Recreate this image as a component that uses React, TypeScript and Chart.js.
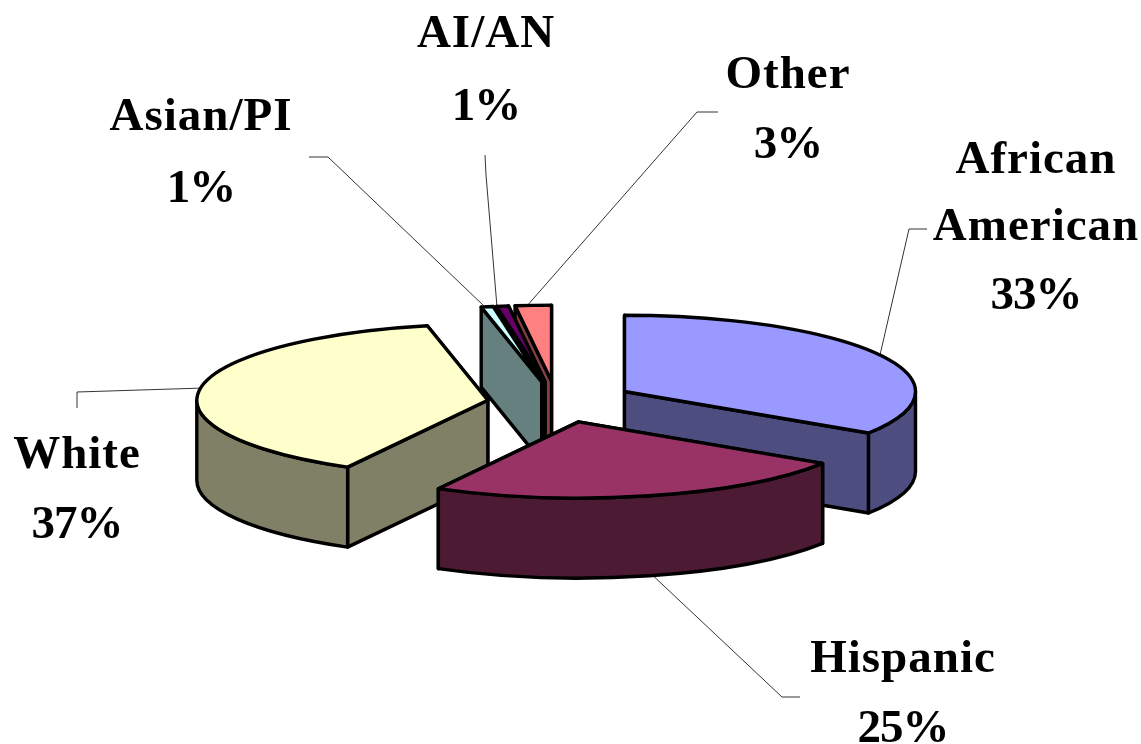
import React, { useEffect, useRef } from "react";
import { Chart, registerables } from "chart.js";

Chart.register(...registerables);

// ---- data ----
const categories = ["African American", "Hispanic", "White", "Asian/PI", "AI/AN", "Other"];
const shares = [33, 25, 37, 1, 1, 3];
const topColors = ["#9999FF", "#993366", "#FFFFCC", "#CCFFFF", "#660066", "#FF8080"];
const wallColors = ["#4D4D80", "#4D1A33", "#808066", "#668080", "#330033", "#804040"];

// ---- layout (not data) ----
const W = 1141;
const H = 744;
const RADIUS = 291;
const TILT = 0.262;
const DEPTH = 80;
const explode = [79, 79, 69, 79, 79, 79];
const LINE = 3.4;
const FONT = 'bold 47px "Liberation Serif"';
const labelLayout = [
  { x: 1036, y: [173, 240, 309] },
  { x: 903, y: [672, 742] },
  { x: 77, y: [468, 538] },
  { x: 201, y: [130, 202] },
  { x: 486, y: [47, 120] },
  { x: 788, y: [88, 158] },
];
const leaderLayout = [
  [[927, 229], [909, 229], [880, 355]],
  [[800, 697], [782, 697], [647, 570]],
  [[77, 408], [77, 392], [204, 388]],
  [[309, 157], [328, 157], [484, 306]],
  [[485, 155], [486, 175], [497, 307]],
  [[718, 112], [697, 112], [526, 307]],
];
// How the 3D view slides pie angles along the rim (degrees clockwise from twelve o'clock).
const viewKnots = [
  [0, 0],
  [90, 90],
  [118.8, 123],
  [150, 150],
  [315, 315],
  [342, 348],
  [360, 360],
];

const DEG = Math.PI / 180;
function viewAngle(a: number) {
  const t = (a + Math.PI / 2) / DEG;
  for (let k = 1; k < viewKnots.length; k++) {
    const [t0, v0] = viewKnots[k - 1];
    const [t1, v1] = viewKnots[k];
    if (t <= t1 + 1e-6) return (v0 + ((t - t0) * (v1 - v0)) / (t1 - t0)) * DEG - Math.PI / 2;
  }
  return a;
}

function drawSlice(ctx: CanvasRenderingContext2D, arc: any, i: number) {
  const s = viewAngle(arc.startAngle);
  const e = viewAngle(arc.endAngle);
  const mid = viewAngle((arc.startAngle + arc.endAngle) / 2);
  const R = arc.outerRadius;
  const ax = arc.x + Math.cos(mid) * explode[i];
  const ay = arc.y + Math.sin(mid) * explode[i] * TILT;
  const rim = (a: number): [number, number] => [ax + R * Math.cos(a), ay + R * TILT * Math.sin(a)];

  ctx.lineWidth = LINE;
  ctx.lineJoin = "round";
  ctx.strokeStyle = "#000";
  ctx.fillStyle = wallColors[i];

  // cut faces, far one first
  const faces = [s, e].map((a) => rim(a)).sort((p, q) => p[1] - q[1]);
  for (const p of faces) {
    ctx.beginPath();
    ctx.moveTo(ax, ay);
    ctx.lineTo(p[0], p[1]);
    ctx.lineTo(p[0], p[1] + DEPTH);
    ctx.lineTo(ax, ay + DEPTH);
    ctx.closePath();
    ctx.fill();
    ctx.stroke();
  }

  // outer wall: only the part turned to the viewer
  const a0 = Math.max(s, 0);
  const a1 = Math.min(e, Math.PI);
  if (a1 > a0) {
    ctx.beginPath();
    ctx.ellipse(ax, ay, R, R * TILT, 0, a0, a1);
    ctx.ellipse(ax, ay + DEPTH, R, R * TILT, 0, a1, a0, true);
    ctx.closePath();
    ctx.fill();
    ctx.stroke();
  }

  // top face: the library's own arc element, squashed into the tilted plane
  const view = Object.assign(Object.create(arc), {
    startAngle: s,
    endAngle: e,
    circumference: e - s,
  });
  ctx.save();
  ctx.translate(ax, ay);
  ctx.scale(1, TILT);
  ctx.translate(-arc.x, -arc.y);
  view.draw(ctx);
  ctx.restore();

  ctx.beginPath();
  ctx.moveTo(ax, ay);
  ctx.ellipse(ax, ay, R, R * TILT, 0, s, e);
  ctx.closePath();
  ctx.stroke();
}

const pie3d = {
  id: "pie3d",
  beforeDatasetsDraw(chart: any) {
    const ctx = chart.ctx;
    ctx.save();
    ctx.strokeStyle = "#333";
    ctx.lineWidth = 1;
    for (const path of leaderLayout) {
      ctx.beginPath();
      path.forEach(([x, y], k) => (k ? ctx.lineTo(x, y) : ctx.moveTo(x, y)));
      ctx.stroke();
    }
    ctx.restore();
  },
  beforeDatasetDraw(chart: any, args: any) {
    const ctx = chart.ctx;
    const arcs = args.meta.data
      .map((arc: any, i: number) => ({ arc, i }))
      .sort(
        (p: any, q: any) =>
          Math.sin((p.arc.startAngle + p.arc.endAngle) / 2) -
          Math.sin((q.arc.startAngle + q.arc.endAngle) / 2)
      );
    for (const { arc, i } of arcs) drawSlice(ctx, arc, i);
    return false;
  },
  afterDraw(chart: any) {
    const ctx = chart.ctx;
    ctx.save();
    ctx.fillStyle = "#000";
    ctx.font = FONT;
    ctx.textAlign = "center";
    ctx.textBaseline = "alphabetic";
    categories.forEach((name, i) => {
      const words = name === "African American" ? name.split(" ") : [name];
      const box = labelLayout[i];
      (ctx as any).letterSpacing = "1px";
      words.forEach((line, k) => ctx.fillText(line, box.x, box.y[k]));
      (ctx as any).letterSpacing = "-1px";
      ctx.fillText(`${shares[i]}%`, box.x, box.y[words.length]);
    });
    ctx.restore();
  },
};

export default function App() {
  const ref = useRef<HTMLCanvasElement>(null);
  useEffect(() => {
    const chart = new Chart(ref.current as HTMLCanvasElement, {
      type: "pie",
      data: {
        labels: categories,
        datasets: [
          {
            data: shares,
            backgroundColor: topColors,
            borderWidth: 0,
            offset: 0,
            clip: false,
          } as any,
        ],
      },
      options: {
        responsive: false,
        animation: false,
        radius: RADIUS,
        layout: { padding: { top: 60, right: 28 } },
        plugins: { legend: { display: false }, tooltip: { enabled: false } },
      } as any,
      plugins: [pie3d],
    });
    return () => chart.destroy();
  }, []);
  return (
    <div style={{ position: "absolute", left: 0, top: 0, width: W, height: H }}>
      <canvas ref={ref} width={W} height={H} style={{ display: "block" }} />
    </div>
  );
}
